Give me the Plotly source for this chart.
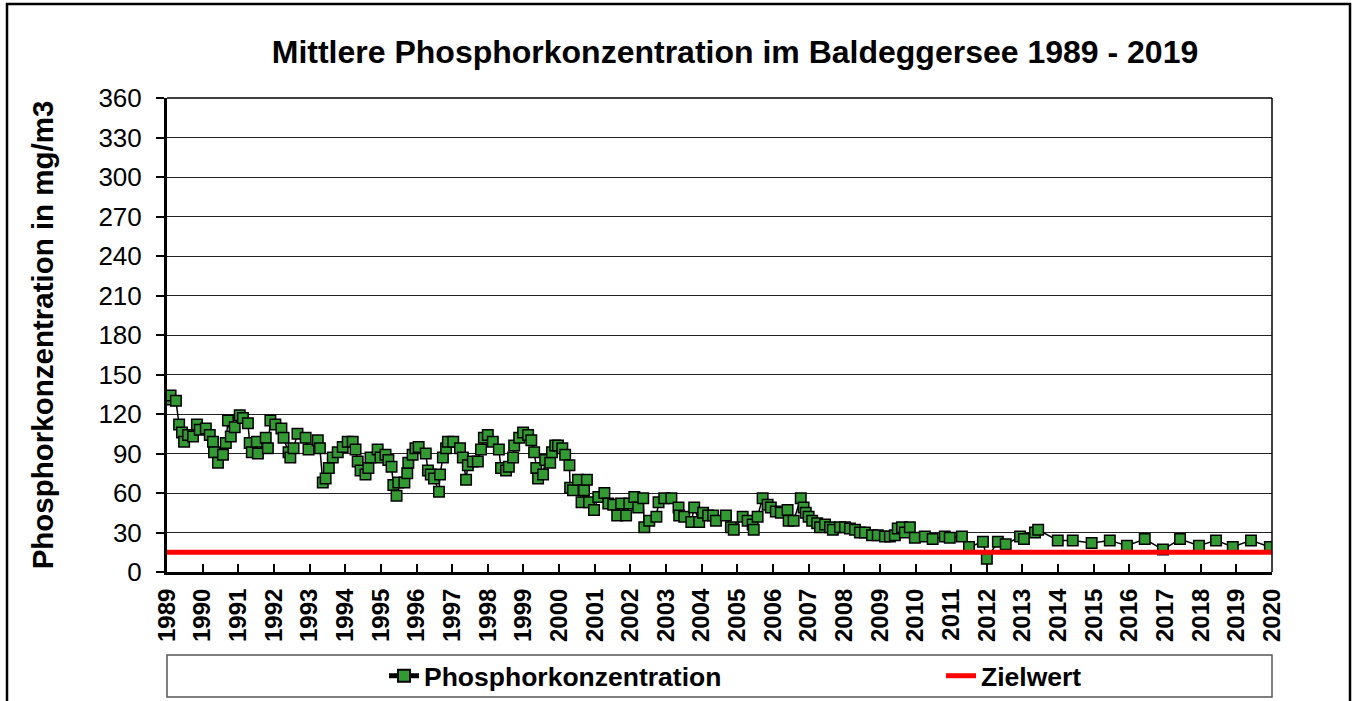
import plotly.graph_objects as go

# Decimal year of each measurement
jahre = [
    1989.03, 1989.10, 1989.25, 1989.34, 1989.42, 1989.48, 1989.59, 1989.73, 1989.84, 1989.92,
    1990.09, 1990.20, 1990.29, 1990.32, 1990.43, 1990.57, 1990.65, 1990.71, 1990.79, 1990.90,
    1991.04, 1991.13, 1991.27, 1991.32, 1991.38, 1991.52, 1991.55, 1991.77, 1991.83, 1991.90,
    1992.04, 1992.21, 1992.27, 1992.41, 1992.46, 1992.55, 1992.66, 1992.89, 1992.97, 1993.23,
    1993.29, 1993.37, 1993.45, 1993.54, 1993.65, 1993.79, 1993.93, 1994.07, 1994.21, 1994.29,
    1994.35, 1994.43, 1994.57, 1994.65, 1994.71, 1994.91, 1994.99, 1995.13, 1995.21, 1995.30,
    1995.35, 1995.44, 1995.49, 1995.66, 1995.74, 1995.77, 1995.89, 1995.97, 1996.06, 1996.26,
    1996.32, 1996.40, 1996.49, 1996.63, 1996.66, 1996.74, 1996.83, 1996.88, 1997.03, 1997.22,
    1997.30, 1997.39, 1997.44, 1997.58, 1997.72, 1997.81, 1997.89, 1998.00, 1998.14, 1998.31,
    1998.37, 1998.51, 1998.59, 1998.71, 1998.74, 1998.88, 1998.99, 1999.13, 1999.22, 1999.30,
    1999.36, 1999.41, 1999.55, 1999.61, 1999.75, 1999.80, 1999.89, 1999.97, 2000.09, 2000.17,
    2000.29, 2000.31, 2000.39, 2000.53, 2000.63, 2000.70, 2000.78, 2000.84, 2000.98, 2001.10,
    2001.27, 2001.38, 2001.52, 2001.63, 2001.74, 2001.88, 2001.97, 2002.11, 2002.22, 2002.36,
    2002.39, 2002.53, 2002.73, 2002.79, 2002.95, 2003.15, 2003.35, 2003.37, 2003.51, 2003.71,
    2003.79, 2003.93, 2004.04, 2004.18, 2004.32, 2004.40, 2004.68, 2004.82, 2004.90, 2005.15,
    2005.29, 2005.43, 2005.46, 2005.57, 2005.71, 2005.85, 2005.94, 2006.08, 2006.22, 2006.41,
    2006.44, 2006.58, 2006.78, 2006.86, 2006.92, 2007.00, 2007.10, 2007.24, 2007.32, 2007.46,
    2007.60, 2007.68, 2007.88, 2008.02, 2008.16, 2008.30, 2008.44, 2008.58, 2008.78, 2008.94,
    2009.14, 2009.28, 2009.42, 2009.50, 2009.62, 2009.70, 2009.84, 2009.98, 2010.26, 2010.48,
    2010.82, 2010.96, 2011.30, 2011.50, 2011.89, 2012.00, 2012.31, 2012.53, 2012.93, 2013.04,
    2013.35, 2013.44, 2013.99, 2014.41, 2014.94, 2015.45, 2015.93, 2016.43, 2016.94, 2017.42,
    2017.95, 2018.43, 2018.90, 2019.41, 2019.94,
]

# Phosphorus concentration in mg/m3
phosphor = [
    131, 134, 130, 112, 106, 99, 104, 103, 112, 108,
    109, 104, 99, 91, 83, 89, 98, 115, 103, 110,
    119, 117, 113, 98, 91, 99, 90, 102, 94, 115,
    112, 109, 102, 91, 87, 94, 105, 102, 93, 100,
    94, 68, 71, 79, 87, 91, 95, 99, 99, 93,
    84, 77, 74, 79, 87, 93, 87, 89, 85, 80,
    66, 58, 68, 68, 75, 83, 89, 94, 95, 90,
    77, 74, 71, 61, 74, 87, 94, 99, 99, 94,
    87, 70, 81, 84, 84, 93, 102, 104, 99, 93,
    79, 77, 80, 87, 96, 102, 106, 104, 100, 91,
    79, 71, 74, 85, 83, 91, 96, 96, 94, 89,
    81, 64, 62, 70, 53, 62, 70, 53, 47, 57,
    60, 52, 51, 43, 52, 43, 52, 57, 49, 56,
    34, 39, 42, 53, 56, 56, 49, 43, 42, 38,
    49, 38, 45, 43, 43, 39, 43, 34, 32, 42,
    39, 36, 32, 42, 56, 51, 49, 46, 45, 47,
    39, 39, 56, 49, 45, 42, 39, 37, 34, 36,
    34, 32, 34, 34, 33, 32, 30, 30, 28, 28,
    27, 27, 28, 33, 34, 30, 34, 26, 27, 25,
    27, 26, 27, 19, 23, 10, 23, 21, 27, 25,
    30, 32, 24, 24, 22, 24, 20, 25, 17, 25,
    20, 24, 19, 24, 19,
]

ziel_jahre = [1989, 2020]
zielwert = [15, 15]

titel = "Mittlere Phosphorkonzentration im Baldeggersee 1989 - 2019"
y_titel = "Phosphorkonzentration in mg/m3"
name_p = "Phosphorkonzentration"
name_z = "Zielwert"

FONT = "Liberation Sans, Arial, sans-serif"

W, H = 1354, 701
L, R, T, B = 167, 1272, 98, 572
pw, ph = R - L, B - T

def px(x):
    return (x - L) / pw

def py(y):
    return (B - y) / ph

fig = go.Figure()
fig.add_trace(go.Scatter(
    x=jahre, y=phosphor, name=name_p, mode="lines+markers",
    line=dict(color="black", width=1.5),
    marker=dict(symbol="square", size=10.5, color="#339933",
                line=dict(color="black", width=1.5)),
    legend="legend",
))
fig.add_trace(go.Scatter(
    x=ziel_jahre, y=zielwert, name=name_z, mode="lines",
    line=dict(color="#ff0000", width=5),
    legend="legend2",
))

legend_font = dict(size=26.5, family=FONT, weight="bold")

fig.update_layout(
    width=W, height=H,
    margin=dict(l=L, r=W - R, t=T, b=H - B, autoexpand=False),
    paper_bgcolor="white", plot_bgcolor="white",
    font=dict(family=FONT, color="black"),
    title=dict(text="<b>" + titel + "</b>", font=dict(size=32, family=FONT),
               x=px(735), xref="paper", xanchor="center",
               y=1 - 52 / H, yref="container", yanchor="middle"),
    showlegend=True,
    legend=dict(orientation="h", x=px(384), xanchor="left",
                y=py(676), yanchor="middle", font=legend_font,
                bgcolor="rgba(0,0,0,0)", borderwidth=0, itemsizing="constant"),
    legend2=dict(orientation="h", x=px(941), xanchor="left",
                 y=py(676), yanchor="middle", font=legend_font,
                 bgcolor="rgba(0,0,0,0)", borderwidth=0, itemsizing="constant"),
    shapes=[
        dict(type="rect", xref="paper", yref="paper",
             x0=px(7), x1=px(1350), y0=py(712), y1=py(4),
             line=dict(color="black", width=2.5), layer="below"),
        dict(type="rect", xref="paper", yref="paper",
             x0=0, x1=1, y0=py(697), y1=py(655),
             line=dict(color="#555555", width=1.5), layer="below"),
    ],
)

fig.update_xaxes(
    range=[1989, 2020], dtick=1, tick0=1989, tickformat="d",
    tickangle=-90, ticks="inside", ticklen=8, tickcolor="black", tickwidth=1.5,
    tickfont=dict(size=24, family=FONT, weight="bold"), ticklabelstandoff=4,
    showgrid=False, zeroline=False,
    showline=True, linecolor="black", linewidth=3, mirror=False,
)
fig.update_yaxes(
    range=[0, 360], dtick=30, tick0=0,
    ticks="outside", ticklen=8, tickcolor="black", tickwidth=1.5,
    tickfont=dict(size=26, family=FONT), ticklabelstandoff=9,
    showgrid=True, gridcolor="#222222", gridwidth=1,
    zeroline=False, showline=True, linecolor="black", linewidth=3,
    title=dict(text="<b>" + y_titel + "</b>", font=dict(size=29.5, family=FONT),
               standoff=37),
)
# Right and top frame of the plot area
fig.add_shape(type="line", xref="paper", yref="paper", x0=1, x1=1, y0=0, y1=1,
              line=dict(color="black", width=1.5))
fig.add_shape(type="line", xref="paper", yref="paper", x0=0, x1=1, y0=1, y1=1,
              line=dict(color="black", width=1.5))

fig.write_html("out.html",
               config={"displayModeBar": False},
               post_script="document.body.style.margin='0';document.body.style.overflow='hidden';")
